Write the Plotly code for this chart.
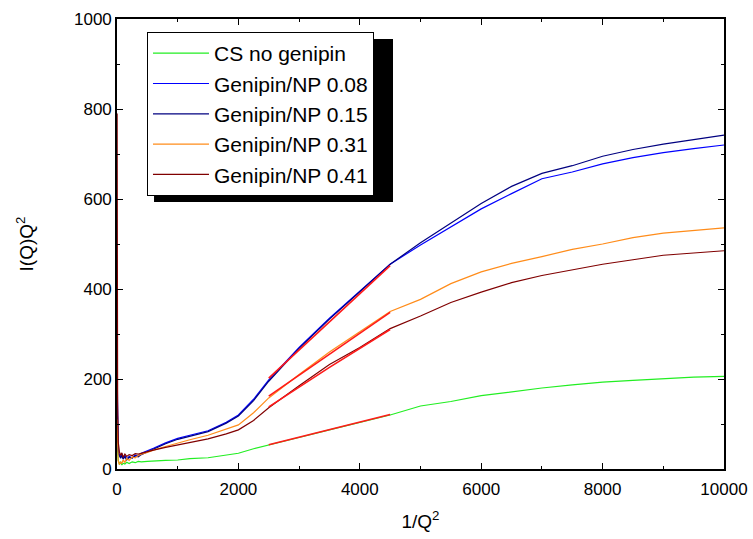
import plotly.graph_objects as go

# ---- data ----
x_common = [2, 5, 10, 20, 30, 40, 60, 80, 100, 130, 160, 200, 250, 300, 350, 400,
            500, 600, 800, 1000, 1200, 1500, 1800, 2000, 2250, 2500, 3000, 3500,
            4000, 4500, 5000, 5500, 6000, 6500, 7000, 7500, 8000, 8500, 9000,
            9500, 10000]

y_cs = [240, 90, 40, 20, 14, 10, 16, 9, 13, 11, 15, 12, 16, 14, 17, 16,
        17, 18, 19, 20, 23, 25, 30, 35, 45, 53, 70, 87,
        103, 120, 140, 150, 163, 172, 180, 187, 193, 197, 201,
        204, 206]

y_008 = [220, 130, 70, 45, 35, 30, 26, 34, 24, 30, 22, 28, 25, 31, 29, 35,
         40, 46, 58, 68, 75, 85, 104, 120, 155, 198, 270, 335,
         395, 455, 498, 538, 578, 612, 645, 660, 678, 692, 703,
         712, 720]

y_015 = [150, 100, 60, 40, 32, 28, 24, 30, 22, 27, 20, 26, 24, 29, 27, 32,
         38, 44, 56, 66, 73, 83, 102, 118, 152, 195, 268, 333,
         394, 455, 503, 547, 590, 628, 657, 674, 695, 710, 722,
         732, 742]

y_031 = [110, 70, 40, 18, 14, 10, 16, 12, 20, 15, 24, 19, 27, 25, 30, 33,
         37, 42, 50, 58, 65, 75, 88, 98, 125, 158, 210, 260,
         305, 350, 377, 412, 438, 457, 472, 488, 500, 514, 524,
         530, 536]

y_041 = [790, 400, 150, 60, 45, 38, 30, 36, 26, 33, 28, 32, 30, 34, 33, 35,
         38, 42, 48, 53, 58, 67, 78, 87, 108, 136, 185, 232,
         270, 312, 340, 370, 393, 414, 430, 443, 455, 465, 475,
         480, 485]

series_names = ["CS no genipin", "Genipin/NP 0.08", "Genipin/NP 0.15",
                "Genipin/NP 0.31", "Genipin/NP 0.41"]
series_values = [y_cs, y_008, y_015, y_031, y_041]
series_colors = ["#22ee22", "#0000ff", "#000080", "#ff8c1a", "#800000"]

# linear fits (red) over the mid range
fit_x = [2500, 3500, 4500]
fit_008 = [202, 328, 452]
fit_031 = [162, 256, 348]
fit_041 = [138, 226, 310]
fit_cs = [54, 88, 121]
fit_values = [fit_cs, fit_008, fit_031, fit_041]

x_ticks = [0, 2000, 4000, 6000, 8000, 10000]
y_ticks = [0, 200, 400, 600, 800, 1000]

FONT = "'Liberation Sans', Arial, Helvetica, sans-serif"

fig = go.Figure()
for name, vals, col in zip(series_names, series_values, series_colors):
    fig.add_trace(go.Scatter(x=x_common, y=vals, mode="lines", name=name,
                             line=dict(color=col, width=1.2)))
for vals in fit_values:
    fig.add_trace(go.Scatter(x=fit_x, y=vals, mode="lines", showlegend=False,
                             line=dict(color="#ff1a1a", width=1.6),
                             hoverinfo="skip"))

axis_common = dict(
    showline=True, linecolor="black", linewidth=1.6, mirror="allticks",
    ticks="inside", ticklen=6, tickwidth=1.4, tickcolor="black",
    showgrid=False, zeroline=False, automargin=False,
    tickfont=dict(family=FONT, size=17, color="black"),
    title_font=dict(family=FONT, size=19, color="black"),
)

fig.update_xaxes(range=[0, 10000], tickvals=x_ticks,
                 ticktext=[str(v) for v in x_ticks],
                 minor=dict(dtick=1000, ticks="inside", ticklen=3,
                            tickwidth=1.2, tickcolor="black"),
                 ticklabelstandoff=4,
                 title_text="1/Q<sup>2</sup>", title_standoff=16,
                 **axis_common)
fig.update_yaxes(range=[0, 1000], tickvals=y_ticks,
                 ticktext=[str(v) for v in y_ticks],
                 minor=dict(dtick=100, ticks="inside", ticklen=3,
                            tickwidth=1.2, tickcolor="black"),
                 title_text="I(Q)Q<sup>2</sup>", title_standoff=35,
                 **axis_common)

# legend drop shadow
fig.add_shape(type="rect", xref="paper", yref="paper",
              x0=0.061, x1=0.4547, y0=0.5933, y1=0.9556,
              fillcolor="black", line=dict(width=0), layer="above")

fig.update_layout(
    width=753, height=539,
    margin=dict(l=117, r=29, t=19, b=70),
    plot_bgcolor="white", paper_bgcolor="white",
    font=dict(family=FONT, color="black"),
    showlegend=True,
    legend=dict(x=0.0494, y=0.971, xanchor="left", yanchor="top",
                bgcolor="white", bordercolor="black", borderwidth=1,
                font=dict(family=FONT, size=21, color="black"),
                itemwidth=56, tracegroupgap=0),
)

fig.write_html("out.html", config={"displayModeBar": False},
               post_script="document.body.style.margin='0';"
                           "document.body.style.overflow='hidden';")
